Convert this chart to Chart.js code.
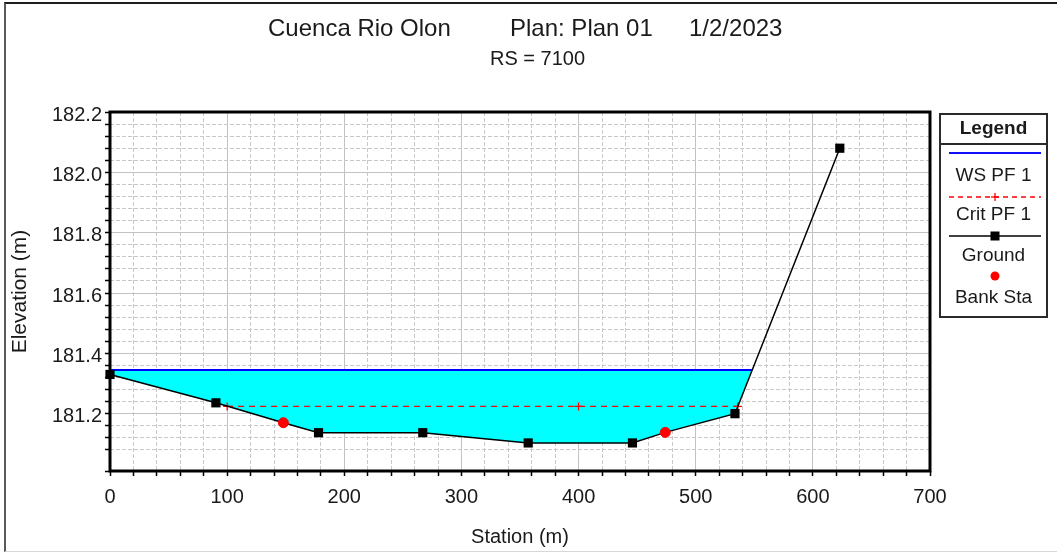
<!DOCTYPE html>
<html>
<head>
<meta charset="utf-8">
<title>Cuenca Rio Olon - RS 7100</title>
<script src="https://cdn.jsdelivr.net/npm/chart.js@4.4.1/dist/chart.umd.min.js"></script>
<style>
  html, body { margin: 0; padding: 0; background: #fff; }
  #wrap { position: relative; width: 1057px; height: 553px; overflow: hidden;
          font-family: "Liberation Sans", Arial, sans-serif; color: #1a1a1a; }
  #chart { position: absolute; left: 0; top: 0; }
  #frame { position: absolute; left: 4px; top: 2px; right: 0; bottom: 1px; pointer-events: none;
           border-top: 2px solid #1c1c1c; border-left: 2px solid #5a5a5a; border-bottom: 1px solid #d8d8d8; }
  .t { position: absolute; white-space: pre; }
  .head { font-size: 24px; line-height: 28px; top: 14px; }
  .sub  { font-size: 20px; line-height: 24px; top: 46px; left: 490px; }
  #legend { position: absolute; left: 939px; top: 113px; width: 109px; height: 205px;
            box-sizing: border-box; border: 2px solid #2a2a2a; }
  #legend .cap { height: 30px; box-sizing: border-box; border-bottom: 2px solid #2a2a2a;
                 font-weight: bold; font-size: 19px; line-height: 26px; text-align: center; }
  .lg { position: absolute; left: 939px; width: 109px; text-align: center; font-size: 19px; line-height: 22px; }
  .sw { position: absolute; left: 949px; }
</style>
</head>
<body>
<div id="wrap">
  <canvas id="chart" width="1057" height="553"></canvas>

  <!-- titulo -->
  <div class="t head" style="left:268px">Cuenca Rio Olon</div>
  <div class="t head" style="left:510px">Plan: Plan 01</div>
  <div class="t head" style="left:689px">1/2/2023</div>
  <div class="t sub">RS = 7100</div>

  <!-- leyenda estilo HEC-RAS -->
  <div id="legend"><div class="cap">Legend</div></div>
  <svg class="sw" style="top:149px" width="92" height="8">
    <line x1="0" y1="4" x2="92" y2="4" stroke="#1010ff" stroke-width="2"/>
  </svg>
  <div class="lg" style="top:164px">WS PF 1</div>
  <svg class="sw" style="top:192px" width="92" height="10">
    <line x1="0" y1="5" x2="92" y2="5" stroke="#ff0000" stroke-width="1.3" stroke-dasharray="5 4"/>
    <line x1="46" y1="1" x2="46" y2="9" stroke="#ff0000" stroke-width="1.3"/>
    <line x1="42" y1="5" x2="50" y2="5" stroke="#ff0000" stroke-width="1.3"/>
  </svg>
  <div class="lg" style="top:203px">Crit PF 1</div>
  <svg class="sw" style="top:230px" width="92" height="12">
    <line x1="0" y1="6" x2="92" y2="6" stroke="#000" stroke-width="1.5"/>
    <rect x="41.5" y="1.5" width="9" height="9" fill="#000"/>
  </svg>
  <div class="lg" style="top:244px">Ground</div>
  <svg class="sw" style="top:270px" width="92" height="12">
    <circle cx="46" cy="6" r="4.5" fill="#ff0000"/>
  </svg>
  <div class="lg" style="top:286px">Bank Sta</div>

  <div id="frame"></div>
</div>

<script>
// ─── datos ──────────────────────────────────────────────────────────────────
const groundSta  = [0, 90.4, 148, 178, 267, 357, 446, 474, 533.5, 623];
const groundElev = [181.33, 181.236, 181.17, 181.137, 181.137, 181.103, 181.103, 181.138, 181.2, 182.08];

const bankSta  = [148, 474];
const bankElev = [181.17, 181.138];

const wsSta  = [0, 548];
const wsElev = [181.345, 181.345];

const critSta  = [100, 400, 536];
const critElev = [181.224, 181.224, 181.224];

const xLabels = [0, 100, 200, 300, 400, 500, 600, 700];
const yLabels = [181.2, 181.4, 181.6, 181.8, 182.0, 182.2];

// ─── utilidades ─────────────────────────────────────────────────────────────
const pts = (xs, ys) => xs.map((x, i) => ({ x, y: ys[i] }));
const near = (v, list) => list.some(l => Math.abs(l - v) < 1e-6);

const TICK_FONT = { family: '"Liberation Sans", Arial, sans-serif', size: 20 };
const GRID_MAJOR = '#c2c2c2';
const GRID_MINOR = '#c8c8c8';

// marco grueso del área de trazado
const plotFrame = {
  id: 'plotFrame',
  afterDatasetsDraw(chart) {
    const { ctx, chartArea: a } = chart;
    ctx.save();
    ctx.strokeStyle = '#000';
    ctx.lineWidth = 3;
    ctx.strokeRect(a.left, a.top, a.right - a.left, a.bottom - a.top);
    ctx.restore();
  },
};

new Chart(document.getElementById('chart'), {
  type: 'line',
  data: {
    datasets: [
      {
        label: 'Bank Sta',
        data: pts(bankSta, bankElev),
        showLine: false,
        pointStyle: 'circle',
        pointRadius: 5,
        pointBackgroundColor: '#ff0000',
        pointBorderColor: '#ff0000',
        clip: 10,
      },
      {
        label: 'Ground',
        data: pts(groundSta, groundElev),
        borderColor: '#000',
        borderWidth: 1.5,
        pointStyle: 'rect',
        pointRadius: c => near(groundSta[c.dataIndex], bankSta) ? 0 : 6.5,
        pointBackgroundColor: '#000',
        pointBorderColor: '#000',
        pointBorderWidth: 0,
        tension: 0,
        clip: 10,
      },
      {
        label: 'Crit PF 1',
        data: pts(critSta, critElev),
        borderColor: '#ff0000',
        borderWidth: 1.3,
        borderDash: [6, 5],
        pointStyle: 'cross',
        pointRadius: 4,
        pointBorderColor: '#ff0000',
        pointBorderWidth: 1.3,
      },
      {
        label: 'WS PF 1',
        data: pts(wsSta, wsElev),
        borderColor: '#0000ff',
        borderWidth: 2,
        pointRadius: 0,
        fill: { target: 1, above: '#00ffff', below: 'rgba(0,0,0,0)' },
      },
    ],
  },
  options: {
    responsive: false,
    animation: false,
    layout: { padding: { left: 0, top: 112, right: 127, bottom: 0 } },
    plugins: {
      legend: { display: false },
      title: { display: false },
      tooltip: { enabled: false },
    },
    scales: {
      x: {
        type: 'linear',
        min: 0, max: 700,
        afterFit: s => { s.height = 82; },
        ticks: {
          stepSize: 20,
          autoSkip: false,
          maxRotation: 0,
          padding: 9,
          color: '#1a1a1a',
          font: TICK_FONT,
          callback: v => near(v, xLabels) ? String(v) : '',
        },
        grid: {
          color: c => c.tick && near(c.tick.value, xLabels) ? GRID_MAJOR : GRID_MINOR,
          lineWidth: 1,
          tickLength: 5,
          tickColor: '#000',
          tickWidth: 1.5,
        },
        border: { display: false, dash: c => c.tick && !near(c.tick.value, xLabels) ? [4, 2] : [] },
        title: {
          display: true, text: 'Station (m)', color: '#1a1a1a',
          font: { family: TICK_FONT.family, size: 20 },
          padding: { top: 0, bottom: 4 },
        },
      },
      y: {
        type: 'linear',
        min: 181.01, max: 182.2,
        afterFit: s => { s.width = 110; },
        ticks: {
          stepSize: 0.04,
          autoSkip: false,
          padding: 3,
          labelOffset: 3,
          color: '#1a1a1a',
          font: TICK_FONT,
          callback: v => near(v, yLabels) ? v.toFixed(1) : '',
        },
        grid: {
          color: c => c.tick && near(c.tick.value, yLabels) ? GRID_MAJOR : GRID_MINOR,
          lineWidth: 1,
          tickLength: 5,
          tickColor: '#000',
          tickWidth: 1.5,
        },
        border: { display: false, dash: c => c.tick && !near(c.tick.value, yLabels) ? [4, 2] : [] },
        title: {
          display: true, text: 'Elevation (m)', color: '#1a1a1a',
          font: { family: TICK_FONT.family, size: 21 },
          padding: { top: 8, bottom: 0 },
        },
      },
    },
  },
  plugins: [plotFrame],
});
</script>
</body>
</html>
